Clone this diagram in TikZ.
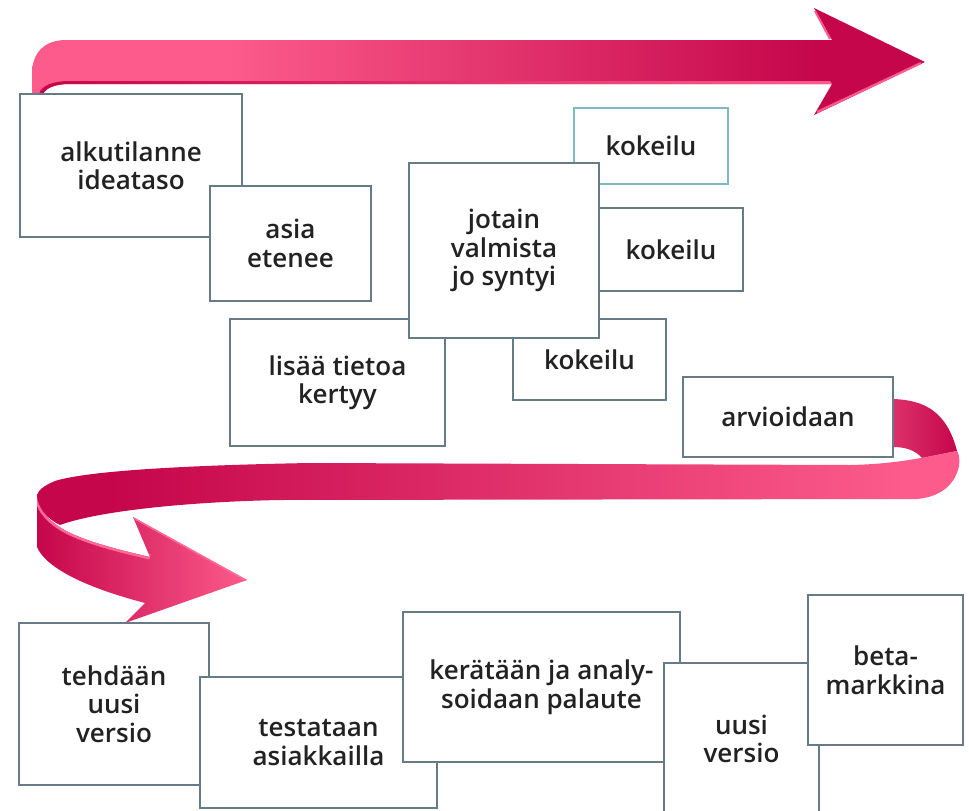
\documentclass[tikz,border=0pt]{standalone}
\usepackage{fontspec}
% semibold face for the box labels, with fallbacks
\IfFontExistsTF{Open Sans SemiBold}
  {\setmainfont{Open Sans}[BoldFont={Open Sans SemiBold}]}
  {\IfFontExistsTF{Open Sans Semibold}
    {\setmainfont{Open Sans}[BoldFont={Open Sans Semibold}]}
    {\IfFontExistsTF{Noto Sans SemiBold}
      {\setmainfont{Noto Sans}[BoldFont={Noto Sans SemiBold}]}
      {\setmainfont{Open Sans}[BoldFont={Open Sans}, BoldFeatures={FakeBold=1.6}]}}}
\usetikzlibrary{calc}

\definecolor{pinkA}{HTML}{FC5B8C}
\definecolor{crimA}{HTML}{C5064A}
\definecolor{pinkB}{HTML}{FF6A98}
\definecolor{foldL}{HTML}{E23A72}
\definecolor{boxline}{HTML}{667A88}
\definecolor{tealline}{HTML}{7FBABD}
\definecolor{textc}{HTML}{222222}

% gradients for the two ribbons (stops inside 25bp..75bp span the path)
\pgfdeclarehorizontalshading{topband}{100bp}{color(0bp)=(pinkA); color(36bp)=(pinkA); color(69bp)=(crimA); color(100bp)=(crimA)}
\pgfdeclarehorizontalshading{midband}{100bp}{color(0bp)=(crimA); color(29bp)=(crimA); color(72bp)=(pinkA); color(100bp)=(pinkA)}

\newcommand\boxfont{\fontsize{26}{28.5}\selectfont\bfseries}

\begin{document}
\begin{tikzpicture}[x=1pt,y=-1pt,
  box/.style={draw=boxline, fill=white, line width=1.2pt, align=center,
    text=textc, inner sep=0pt, font=\boxfont},
  tealbox/.style={box, draw=tealline}]
\useasboundingbox (0,0) rectangle (969,811);

% ---------- upper arrow ----------
\shade[shading=topband] (32,94) -- (32,74) .. controls (32,52) and (45,40) .. (66,40)
  -- (832,40) -- (814,8) -- (925,62) -- (814,115) -- (832,84) -- (70,84)
  .. controls (55,84) and (46,88) .. (43,94) -- cycle;
% underside of the curl and shaft
\shade[left color=crimA, right color=pinkA] (43,94) .. controls (46,88) and (55,84) .. (70,84)
  -- (832,84) -- (830,81) -- (70,81) .. controls (52,81) and (41,86) .. (39,94) -- cycle;
% bevels on the head
\draw[pinkA, line width=2pt] (815,11) -- (830,39);
\draw[pinkA, line width=2.2pt] (817,112) -- (921,63);

% ---------- lower ribbon ----------
% back fold behind the evaluation box
\shade[left color=foldL, right color=crimA] (880,399) -- (893,399)
  .. controls (925,400) and (947,412) .. (957,451) -- (922,458)
  .. controls (915,450) and (905,447) .. (893,447) -- (880,447) -- cycle;
% long band running left
\shade[shading=midband] (957,451) .. controls (930,456) and (900,464) .. (850,465)
  -- (310,463) .. controls (200,465) and (90,470) .. (55,481)
  .. controls (43,486) and (37,491) .. (37,497)
  .. controls (38,508) and (46,518) .. (60,525)
  .. controls (95,512) and (180,502) .. (280,500) -- (917,499)
  .. controls (940,497) and (955,485) .. (959,466)
  .. controls (960,459) and (959,454) .. (957,451) -- cycle;
% turn and head
\def\lowerseg{(37,497) -- (37,547) .. controls (45,566) and (80,586) .. (145,603)
  -- (125,623) -- (247,580) -- (133,517) -- (150,557)
  .. controls (110,548) and (75,538) .. (58,526)
  .. controls (46,518) and (38,507) .. (37,497) -- cycle}
\shade[left color=crimA, right color=pinkA] \lowerseg;
\begin{scope}
  \clip \lowerseg;
  \draw[pinkB, line width=5pt] (37,497) .. controls (38,507) and (46,518) .. (58,526)
    .. controls (75,538) and (110,548) .. (150,557);
  \draw[pinkB, line width=3pt] (133,517) -- (247,580);
\end{scope}

% ---------- upper group of boxes ----------
\node[box, minimum width=222pt, minimum height=143pt] (b1) at (131,165.5) {alkutilanne\\ideataso};
\node[box, minimum width=161pt, minimum height=115pt] (b2) at (290.5,243.5) {asia\\etenee};
\node[tealbox, minimum width=154pt, minimum height=76pt] (b4) at (651,146) {kokeilu};
\node[box, minimum width=144pt, minimum height=83pt] (b5) at (671,249.5) {kokeilu};
\node[box, minimum width=153pt, minimum height=81pt] (b7) at (589.5,359.5) {kokeilu};
\node[box, minimum width=215pt, minimum height=127pt] (b6) at (337.5,382.5) {lisää tietoa\\kertyy};
\node[box, minimum width=190pt, minimum height=175pt] (b3) at (504,250.5) {jotain\\valmista\\jo syntyi};
\node[box, minimum width=210pt, minimum height=80pt] (b8) at (788,417) {arvioidaan};

% ---------- lower group of boxes ----------
\node[box, minimum width=190pt, minimum height=162pt] (b9) at (114,704) {tehdään\\uusi\\versio};
\node[box, minimum width=237pt, minimum height=131pt] (b10) at (318.5,742.5) {testataan\\asiakkailla};
\node[box, minimum width=277pt, minimum height=150pt] (b11) at (541.5,687) {kerätään ja analy-\\soidaan palaute};
\node[box, minimum width=155pt, minimum height=152pt] (b12) at (741.5,739) {uusi\\versio};
\node[box, minimum width=155pt, minimum height=150pt] (b13) at (885.5,670) {beta-\\markkina};
\end{tikzpicture}
\end{document}
